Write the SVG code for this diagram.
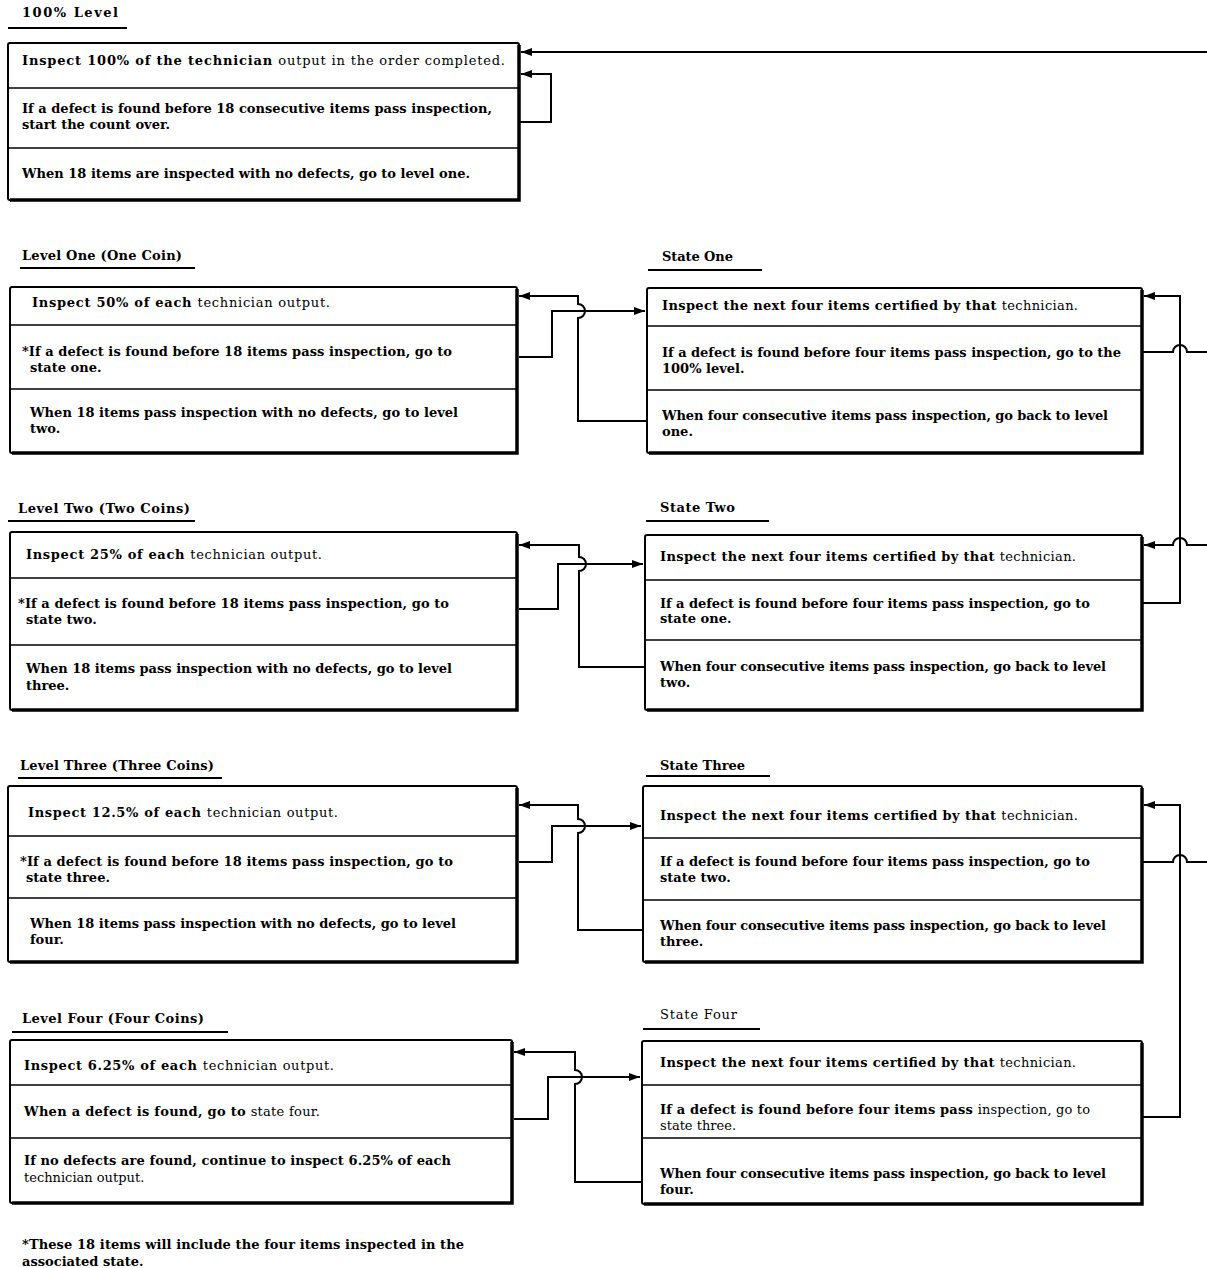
<svg xmlns="http://www.w3.org/2000/svg" width="1207" height="1268" viewBox="0 0 1207 1268">
<style>
.box{fill:#fff;stroke:#000;stroke-width:2}
.sh{fill:none;stroke:#000;stroke-width:3.5}
.dv{stroke:#000;stroke-width:1.5}
.ul{stroke:#000;stroke-width:2}
.t{font-family:"DejaVu Serif","Liberation Serif",serif;font-size:13px;font-weight:bold;fill:#000}
.n{font-weight:normal}
.c{fill:none;stroke:#000;stroke-width:2}
</style>
<defs>
<marker id="ah" markerUnits="userSpaceOnUse" markerWidth="12" markerHeight="10" refX="11" refY="4.5" orient="auto">
<path d="M0,0.5 L11,4.5 L0,8.5 z" fill="#000"/>
</marker>
</defs>
<rect width="1207" height="1268" fill="#fff"/>

<g id="level100">
<text class="t" x="22" y="17" textLength="96" lengthAdjust="spacing">100% Level</text>
<line class="ul" x1="8" y1="28" x2="127" y2="28"/>
<rect class="box" x="8" y="43" width="511" height="157" rx="2"/>
<path class="sh" d="M519,45 V200 H10"/>
<line class="dv" x1="8" y1="88" x2="519" y2="88"/>
<line class="dv" x1="8" y1="148" x2="519" y2="148"/>
<text class="t" x="22" y="65" textLength="483" lengthAdjust="spacing">Inspect 100% of the technician <tspan class="n">output in the order completed.</tspan></text>
<text class="t" x="22" y="113" textLength="470" lengthAdjust="spacing">If a defect is found before 18 consecutive items pass inspection,</text>
<text class="t" x="22" y="129">start the count over.</text>
<text class="t" x="22" y="178" textLength="448" lengthAdjust="spacing">When 18 items are inspected with no defects, go to level one.</text>
</g>

<g id="level1">
<text class="t" x="22" y="260" textLength="160" lengthAdjust="spacing">Level One (One Coin)</text>
<line class="ul" x1="20" y1="268" x2="195" y2="268"/>
<rect class="box" x="10" y="287" width="507" height="166" rx="2"/>
<path class="sh" d="M517,289 V453 H12"/>
<line class="dv" x1="10" y1="325" x2="517" y2="325"/>
<line class="dv" x1="10" y1="389" x2="517" y2="389"/>
<text class="t" x="32" y="307" textLength="298" lengthAdjust="spacing">Inspect 50% of each <tspan class="n">technician output.</tspan></text>
<text class="t" x="22" y="356" textLength="430" lengthAdjust="spacing">*If a defect is found before 18 items pass inspection, go to</text>
<text class="t" x="30" y="372">state one.</text>
<text class="t" x="30" y="417" textLength="428" lengthAdjust="spacing">When 18 items pass inspection with no defects, go to level</text>
<text class="t" x="30" y="433">two.</text>
</g>

<g id="state1">
<text class="t" x="662" y="261" textLength="71" lengthAdjust="spacing">State One</text>
<line class="ul" x1="648" y1="270" x2="762" y2="270"/>
<rect class="box" x="647" y="288" width="495" height="165" rx="2"/>
<path class="sh" d="M1142,290 V453 H649"/>
<line class="dv" x1="647" y1="326" x2="1142" y2="326"/>
<line class="dv" x1="647" y1="390" x2="1142" y2="390"/>
<text class="t" x="662" y="310" textLength="416" lengthAdjust="spacing">Inspect the next four items certified by that  <tspan class="n">technician.</tspan></text>
<text class="t" x="662" y="357" textLength="459" lengthAdjust="spacing">If a defect is found before four items pass inspection, go to the</text>
<text class="t" x="662" y="373">100% level.</text>
<text class="t" x="662" y="420" textLength="446" lengthAdjust="spacing">When four consecutive items pass inspection, go back to level</text>
<text class="t" x="662" y="436">one.</text>
</g>

<g id="level2">
<text class="t" x="18" y="513" textLength="172" lengthAdjust="spacing">Level Two (Two Coins)</text>
<line class="ul" x1="8" y1="521" x2="195" y2="521"/>
<rect class="box" x="10" y="532" width="507" height="178" rx="2"/>
<path class="sh" d="M517,534 V710 H12"/>
<line class="dv" x1="10" y1="578" x2="517" y2="578"/>
<line class="dv" x1="10" y1="645" x2="517" y2="645"/>
<text class="t" x="26" y="559" textLength="296" lengthAdjust="spacing">Inspect 25% of each <tspan class="n">technician output.</tspan></text>
<text class="t" x="18" y="608" textLength="431" lengthAdjust="spacing">*If a defect is found before 18 items pass inspection, go to</text>
<text class="t" x="26" y="624">state two.</text>
<text class="t" x="26" y="673" textLength="426" lengthAdjust="spacing">When 18 items pass inspection with no defects, go to level</text>
<text class="t" x="26" y="690">three.</text>
</g>

<g id="state2">
<text class="t" x="660" y="512" textLength="75" lengthAdjust="spacing">State Two</text>
<line class="ul" x1="646" y1="521" x2="769" y2="521"/>
<rect class="box" x="645" y="535" width="497" height="175" rx="2"/>
<path class="sh" d="M1142,537 V710 H647"/>
<line class="dv" x1="645" y1="580" x2="1142" y2="580"/>
<line class="dv" x1="645" y1="640" x2="1142" y2="640"/>
<text class="t" x="660" y="561" textLength="416" lengthAdjust="spacing">Inspect the next four items certified by that <tspan class="n">technician.</tspan></text>
<text class="t" x="660" y="608" textLength="430" lengthAdjust="spacing">If a defect is found before four items pass inspection, go to</text>
<text class="t" x="660" y="623">state one.</text>
<text class="t" x="660" y="671" textLength="446" lengthAdjust="spacing">When four consecutive items pass inspection, go back to level</text>
<text class="t" x="660" y="687">two.</text>
</g>

<g id="level3">
<text class="t" x="20" y="770" textLength="194" lengthAdjust="spacing">Level Three (Three Coins)</text>
<line class="ul" x1="18" y1="778" x2="222" y2="778"/>
<rect class="box" x="8" y="786" width="509" height="176" rx="2"/>
<path class="sh" d="M517,788 V962 H10"/>
<line class="dv" x1="8" y1="836" x2="517" y2="836"/>
<line class="dv" x1="8" y1="898" x2="517" y2="898"/>
<text class="t" x="28" y="817" textLength="310" lengthAdjust="spacing">Inspect 12.5% of each <tspan class="n">technician output.</tspan></text>
<text class="t" x="20" y="866" textLength="433" lengthAdjust="spacing">*If a defect is found before 18 items pass inspection, go to</text>
<text class="t" x="26" y="882">state three.</text>
<text class="t" x="30" y="928" textLength="426" lengthAdjust="spacing">When 18 items pass inspection with no defects, go to level</text>
<text class="t" x="30" y="944">four.</text>
</g>

<g id="state3">
<text class="t" x="660" y="770" textLength="85" lengthAdjust="spacing">State Three</text>
<line class="ul" x1="646" y1="776" x2="770" y2="776"/>
<rect class="box" x="643" y="786" width="499" height="176" rx="2"/>
<path class="sh" d="M1142,788 V962 H645"/>
<line class="dv" x1="643" y1="838" x2="1142" y2="838"/>
<line class="dv" x1="643" y1="900" x2="1142" y2="900"/>
<text class="t" x="660" y="820" textLength="418" lengthAdjust="spacing">Inspect the next four items certified by that <tspan class="n">technician.</tspan></text>
<text class="t" x="660" y="866" textLength="430" lengthAdjust="spacing">If a defect is found before four items pass inspection, go to</text>
<text class="t" x="660" y="882">state two.</text>
<text class="t" x="660" y="930" textLength="446" lengthAdjust="spacing">When four consecutive items pass inspection, go back to level</text>
<text class="t" x="660" y="946">three.</text>
</g>

<g id="level4">
<text class="t" x="22" y="1023" textLength="182" lengthAdjust="spacing">Level Four (Four Coins)</text>
<line class="ul" x1="12" y1="1032" x2="228" y2="1032"/>
<rect class="box" x="10" y="1040" width="502" height="163" rx="2"/>
<path class="sh" d="M512,1042 V1203 H12"/>
<line class="dv" x1="10" y1="1085" x2="512" y2="1085"/>
<line class="dv" x1="10" y1="1138" x2="512" y2="1138"/>
<text class="t" x="24" y="1070" textLength="310" lengthAdjust="spacing">Inspect 6.25% of each <tspan class="n">technician output.</tspan></text>
<text class="t" x="24" y="1116" textLength="296" lengthAdjust="spacing">When a defect is found, go to <tspan class="n">state four.</tspan></text>
<text class="t" x="24" y="1165" textLength="427" lengthAdjust="spacing">If no defects are found, continue to inspect 6.25% of each</text>
<text class="t n" x="24" y="1182">technician output.</text>
</g>

<g id="state4">
<text class="t n" x="660" y="1019" textLength="77" lengthAdjust="spacing">State Four</text>
<line class="ul" x1="643" y1="1029" x2="760" y2="1029"/>
<rect class="box" x="642" y="1041" width="500" height="163" rx="2"/>
<path class="sh" d="M1142,1043 V1204 H644"/>
<line class="dv" x1="642" y1="1085" x2="1142" y2="1085"/>
<line class="dv" x1="642" y1="1138" x2="1142" y2="1138"/>
<text class="t" x="660" y="1067" textLength="416" lengthAdjust="spacing">Inspect the next four items certified by that <tspan class="n">technician.</tspan></text>
<text class="t" x="660" y="1114" textLength="430" lengthAdjust="spacing">If a defect is found before four items pass <tspan class="n">inspection, go to</tspan></text>
<text class="t n" x="660" y="1130">state three.</text>
<text class="t" x="660" y="1178" textLength="446" lengthAdjust="spacing">When four consecutive items pass inspection, go back to level</text>
<text class="t" x="660" y="1194">four.</text>
</g>

<g id="footnote">
<text class="t" x="22" y="1249" textLength="442" lengthAdjust="spacing">*These 18 items will include the four items inspected in the</text>
<text class="t" x="22" y="1266">associated state.</text>
</g>

<g id="connectors">
<path class="c" d="M1207,52 H521" marker-end="url(#ah)"/>
<path class="c" d="M519,122 H551 V74 H521" marker-end="url(#ah)"/>

<path class="c" d="M519,357 H552 V311 H645" marker-end="url(#ah)"/>
<path class="c" d="M647,421 H578 V318 A7,7 0 0 0 578,304 V296 H519" marker-end="url(#ah)"/>

<path class="c" d="M519,609 H558 V564 H643" marker-end="url(#ah)"/>
<path class="c" d="M645,667 H579 V571 A7,7 0 0 0 579,557 V545 H519" marker-end="url(#ah)"/>

<path class="c" d="M519,862 H552 V826 H641" marker-end="url(#ah)"/>
<path class="c" d="M643,930 H578 V833 A7,7 0 0 0 578,819 V805 H519" marker-end="url(#ah)"/>

<path class="c" d="M514,1119 H548 V1077 H640" marker-end="url(#ah)"/>
<path class="c" d="M642,1182 H575 V1084 A7,7 0 0 0 575,1070 V1052 H514" marker-end="url(#ah)"/>

<path class="c" d="M1142,603 H1180 V296 H1144" marker-end="url(#ah)"/>
<path class="c" d="M1142,352 H1173 A7,7 0 0 1 1187,352 H1207"/>
<path class="c" d="M1207,545 H1187 A7,7 0 0 0 1173,545 H1144" marker-end="url(#ah)"/>

<path class="c" d="M1142,1117 H1180 V805 H1144" marker-end="url(#ah)"/>
<path class="c" d="M1142,862 H1173 A7,7 0 0 1 1187,862 H1207"/>
</g>
</svg>
